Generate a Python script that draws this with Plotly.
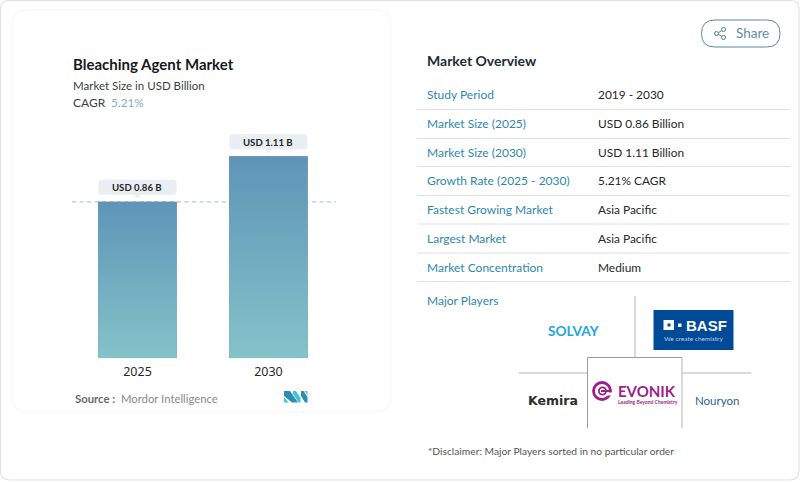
import plotly.graph_objects as go

WIDTH = 800
HEIGHT = 482

# chart data
years = [2025, 2030]
market_size = [0.86, 1.11]
bar_labels = ['USD 0.86 B', 'USD 1.11 B']
bar_top_color = '#5f94b7'
bar_bottom_color = '#83c3c9'

# overview table
overview_labels = ['Study Period', 'Market Size (2025)', 'Market Size (2030)', 'Growth Rate (2025 - 2030)',
                   'Fastest Growing Market', 'Largest Market', 'Market Concentration']
overview_values = ['2019 - 2030', 'USD 0.86 Billion', 'USD 1.11 Billion', '5.21% CAGR',
                   'Asia Pacific', 'Asia Pacific', 'Medium']
overview_text_y = [94.5, 123.5, 152, 180.5, 209, 238, 267]
overview_line_y = [109.5, 138.5, 166.5, 195.5, 224, 253, 281.5]

FONT = 'Lato'
BAR_WIDTH = 3.0
PX_PER_UNIT = 182
BASELINE = 358.3
PLOT_TOP = 130


def fx(x):
    return x / WIDTH


def fy(y):
    return 1 - y / HEIGHT


def rounded(x0, y0, x1, y1, r):
    # rounded rectangle path in page pixels
    return (f'M{fx(x0 + r)},{fy(y0)} L{fx(x1 - r)},{fy(y0)} Q{fx(x1)},{fy(y0)} {fx(x1)},{fy(y0 + r)} '
            f'L{fx(x1)},{fy(y1 - r)} Q{fx(x1)},{fy(y1)} {fx(x1 - r)},{fy(y1)} '
            f'L{fx(x0 + r)},{fy(y1)} Q{fx(x0)},{fy(y1)} {fx(x0)},{fy(y1 - r)} '
            f'L{fx(x0)},{fy(y0 + r)} Q{fx(x0)},{fy(y0)} {fx(x0 + r)},{fy(y0)} Z')


def poly(points):
    return 'M' + ' L'.join(f'{fx(x)},{fy(y)}' for x, y in points) + ' Z'


def add_text(fig, x, y, text, size=12, color='#222222', anchor='left', family=FONT):
    fig.add_annotation(xref='paper', yref='paper', x=fx(x), y=fy(y), text=text, showarrow=False,
                       xanchor=anchor, yanchor='middle', borderpad=0,
                       font=dict(family=family, size=size, color=color))


def add_line(fig, x0, y0, x1, y1, color='#b4b4b4', width=1):
    fig.add_shape(type='line', xref='paper', yref='paper', x0=fx(x0), y0=fy(y0), x1=fx(x1), y1=fy(y1),
                  line=dict(color=color, width=width))


def add_box(fig, path, fill='rgba(0,0,0,0)', line='rgba(0,0,0,0)', width=1, layer='below'):
    fig.add_shape(type='path', xref='paper', yref='paper', path=path, fillcolor=fill,
                  line=dict(color=line, width=width), layer=layer)


def add_circle(fig, cx, cy, r, fill='rgba(0,0,0,0)', line='rgba(0,0,0,0)', width=1):
    fig.add_shape(type='circle', xref='paper', yref='paper', x0=fx(cx - r), x1=fx(cx + r),
                  y0=fy(cy + r), y1=fy(cy - r), fillcolor=fill, line=dict(color=line, width=width))


fig = go.Figure()

# solid bars, then the same bars again with the vertical gradient on top
fig.add_trace(go.Bar(x=years, y=market_size, width=BAR_WIDTH, marker=dict(color=bar_top_color, line=dict(width=0)),
                     showlegend=False))
for year, value in zip(years, market_size):
    fig.add_trace(go.Scatter(x=[year - BAR_WIDTH / 2, year + BAR_WIDTH / 2], y=[value, value], mode='none',
                             fill='tozeroy', showlegend=False,
                             fillgradient=dict(type='vertical', start=0, stop=value,
                                               colorscale=[[0, bar_bottom_color], [1, bar_top_color]])))

# cards
add_box(fig, rounded(0.5, 0.5, 799, 480, 9), fill='#ffffff', line='#e2e2e2', width=1.2)
add_box(fig, rounded(12, 10, 391, 412, 15), fill='#ffffff', line='#f6f6f6', width=1)

# reference line at the 2025 value
fig.add_shape(type='line', xref='paper', yref='y', x0=fx(72), x1=fx(336), y0=market_size[0], y1=market_size[0],
              line=dict(color='#b3c6cb', width=1.2, dash='4px,3.5px'), layer='below')

# value pills above the bars
for year, value, label in zip(years, market_size, bar_labels):
    fig.add_shape(type='path', xref='x', yref='y', xsizemode='pixel', ysizemode='pixel',
                  xanchor=year, yanchor=value,
                  path='M-36,7 L36,7 Q39,7 39,10 L39,19 Q39,22 36,22 L-36,22 Q-39,22 -39,19 L-39,10 Q-39,7 -36,7 Z '
                       'M-3,7 L0,3 L3,7 Z',
                  fillcolor='#e8eef1', line=dict(width=0))
    fig.add_annotation(x=year, y=value, yshift=14, text=f'<b>{label}</b>', showarrow=False, yanchor='middle',
                       font=dict(family=FONT, size=9.6, color='#20272b'))

# left header
add_text(fig, 71.5, 64.5, '<b>Bleaching Agent Market</b>', size=15, color='#16191c')
add_text(fig, 71.5, 85, 'Market Size in USD Billion', size=11.5, color='#3a3f44')
add_text(fig, 71.5, 102, 'CAGR', size=12, color='#3a3f44')
add_text(fig, 109.5, 102, '5.21%', size=11.8, color='#83aecb')

# source line and logo
add_text(fig, 73.5, 398.5, '<b>Source :</b>', size=11.3, color='#6a6a6a')
add_text(fig, 119.5, 398.5, 'Mordor Intelligence', size=11.3, color='#8a8a8a')
add_box(fig, poly([(284, 391), (290, 391), (298, 402.5), (292, 402.5), (284, 396)]), fill='#2b8db5')
add_box(fig, poly([(284, 397), (288.5, 402.5), (284, 402.5)]), fill='#45c3d3')
add_box(fig, poly([(293, 391), (296, 391), (300.5, 398), (300.5, 402.5), (298.5, 402.5), (293, 394)]), fill='#45c3d3')
add_box(fig, poly([(301, 391), (303.5, 391), (307.5, 397), (307.5, 402.5), (305, 402.5), (301, 396)]), fill='#2b8db5')
add_box(fig, poly([(304.5, 391), (307.5, 391), (307.5, 395)]), fill='#45c3d3')

# share button
add_box(fig, rounded(701.5, 20, 780, 47, 13.5), fill='#ffffff', line='#5a8aa3', width=1)
add_line(fig, 717, 33.5, 723.5, 29.5, color='#4f7f98')
add_line(fig, 717, 33.5, 723.5, 37.5, color='#4f7f98')
add_circle(fig, 716.5, 33.5, 2, fill='#ffffff', line='#4f7f98')
add_circle(fig, 723.5, 29.5, 2, fill='#ffffff', line='#4f7f98')
add_circle(fig, 723.5, 37.5, 2, fill='#ffffff', line='#4f7f98')
add_text(fig, 734.5, 33.5, 'Share', size=13.5, color='#5f8ea8')

# overview table
add_text(fig, 426.5, 60.5, '<b>Market Overview</b>', size=14, color='#1f2a38')
for label, value, text_y, line_y in zip(overview_labels, overview_values, overview_text_y, overview_line_y):
    add_text(fig, 426.5, text_y, label, size=12, color='#2f87ae')
    add_text(fig, 596.5, text_y, value, size=11.9, color='#26282a')
    add_line(fig, 417, line_y, 790, line_y, color='#dde1e4')

add_text(fig, 426.5, 300.5, 'Major Players', size=12, color='#2f87ae')

# player grid
add_line(fig, 635, 296, 635, 358)
add_line(fig, 518.5, 373, 587.5, 373)
add_line(fig, 682, 373, 751.5, 373)
add_line(fig, 587.5, 357.5, 682, 357.5, color='#9a9a9a')
add_line(fig, 587.5, 357.5, 587.5, 428, color='#9a9a9a')
add_line(fig, 682, 357.5, 682, 428, color='#b4b4b4')

# player logos
add_text(fig, 573.5, 330, '<b>SOLVAY</b>', size=13.7, color='#23a5dc', anchor='center')
add_box(fig, poly([(653.5, 310), (733.5, 310), (733.5, 350), (653.5, 350)]), fill='#014a97')
add_box(fig, poly([(663.5, 320), (674, 320), (674, 330), (663.5, 330)]), fill='#ffffff')
add_box(fig, poly([(667.5, 323.5), (670.5, 323.5), (670.5, 326.5), (667.5, 326.5)]), fill='#014a97')
add_box(fig, poly([(678, 323.5), (681.5, 323.5), (681.5, 327), (678, 327)]), fill='#ffffff')
add_text(fig, 685, 325.5, '<b>BASF</b>', size=15, color='#ffffff', family='Liberation Sans')
add_text(fig, 693.5, 338, 'We create chemistry', size=6.5, color='#b9cfe6', anchor='center')
add_text(fig, 552.5, 400, '<b>Kemira</b>', size=12.5, color='#2f2f2f', anchor='center', family='DejaVu Sans')

# evonik mark: open ring with an inner e
add_circle(fig, 602, 391, 8.5, line='#9c1f8a', width=2.8)
add_box(fig, poly([(606, 392.5), (613, 392.5), (613, 395.5), (606, 395.5)]), fill='#ffffff', layer='above')
add_circle(fig, 602.5, 391, 3.6, line='#9c1f8a', width=1.8)
add_line(fig, 601, 391, 611, 391, color='#9c1f8a', width=2)
add_text(fig, 647, 391, '<b>EVONIK</b>', size=15, color='#9c1f8a', anchor='center')
add_text(fig, 647.5, 401.5, '<b>Leading Beyond Chemistry</b>', size=5, color='#9c1f8a', anchor='center')
add_text(fig, 716.5, 400, 'Nouryon', size=11.5, color='#2f5f95', anchor='center')

add_text(fig, 426.5, 450.5, '*Disclaimer: Major Players sorted in no particular order', size=10.25, color='#565656')

fig.update_xaxes(domain=[fx(72), fx(336)], range=[years[0] - 2.5, years[1] + 2.58], tickmode='array',
                 tickvals=years, ticktext=[str(y) for y in years], showgrid=False, zeroline=False, showline=False,
                 ticks='outside', ticklen=2, tickcolor='rgba(0,0,0,0)',
                 tickfont=dict(family='Noto Sans', size=12.5, color='#2a2a2a'))
fig.update_yaxes(domain=[fy(BASELINE), fy(PLOT_TOP)], range=[0, (BASELINE - PLOT_TOP) / PX_PER_UNIT], visible=False)

fig.update_layout(
    width=WIDTH,
    height=HEIGHT,
    margin=dict(l=0, r=0, t=0, b=0),
    paper_bgcolor='#ffffff',
    plot_bgcolor='rgba(0,0,0,0)',
    showlegend=False,
    hovermode=False,
    font_family=FONT,
)

fig.write_html('out.html', config=dict(displayModeBar=False),
               post_script="document.body.style.margin='0';")
